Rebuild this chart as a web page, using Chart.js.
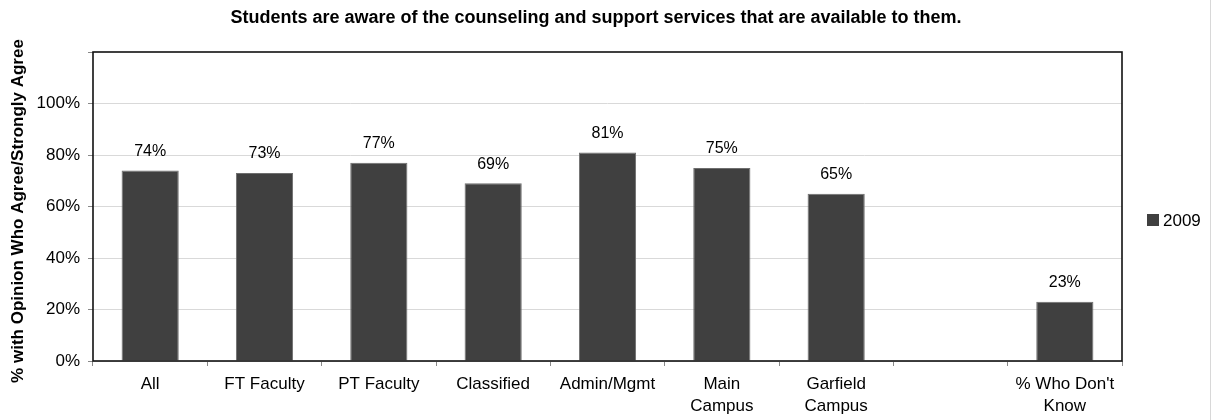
<!DOCTYPE html>
<html>
<head>
<meta charset="utf-8">
<script src="https://cdn.jsdelivr.net/npm/chart.js@4.4.1/dist/chart.umd.min.js"></script>
<style>
  html, body { margin: 0; padding: 0; background: #fff; }
  #wrap { width: 1212px; height: 420px; position: relative; }
</style>
</head>
<body>
<div id="wrap"><canvas id="c" width="1212" height="420"></canvas></div>
<script>
// Survey item and groups
const chartTitle = 'Students are aware of the counseling and support services that are available to them.';
const yAxisTitle = '% with Opinion Who Agree/Strongly Agree';
const categories = [
  'All', 'FT Faculty', 'PT Faculty', 'Classified', 'Admin/Mgmt',
  ['Main', 'Campus'], ['Garfield', 'Campus'], '', ["% Who Don't", 'Know']
];
const seriesName = '2009';
const values2009 = [74, 73, 77, 69, 81, 75, 65, null, 23];
const yTicks = [0, 20, 40, 60, 80, 100];

const FONT = '"Liberation Sans", Arial, Helvetica, sans-serif';
const BAR = '#404040';

// Title, axis title, plot frame, value labels and legend
const decor = {
  id: 'decor',
  afterDraw(chart) {
    const { ctx, chartArea: a } = chart;
    ctx.save();
    // plot frame
    ctx.strokeStyle = '#111';
    ctx.lineWidth = 1.6;
    ctx.strokeRect(a.left, a.top, a.right - a.left, a.bottom - a.top);

    // title
    ctx.fillStyle = '#000';
    ctx.font = 'bold 18px ' + FONT;
    ctx.textAlign = 'center';
    ctx.textBaseline = 'middle';
    ctx.fillText(chartTitle, 596, 18);

    // y axis title
    ctx.save();
    ctx.translate(18, 211);
    ctx.rotate(-Math.PI / 2);
    ctx.font = 'bold 17px ' + FONT;
    ctx.fillText(yAxisTitle, 0, 0);
    ctx.restore();

    // value labels
    const meta = chart.getDatasetMeta(0);
    ctx.font = '16px ' + FONT;
    ctx.textBaseline = 'bottom';
    meta.data.forEach((bar, i) => {
      const v = values2009[i];
      if (v == null) return;
      ctx.fillText(v + '%', bar.x, bar.y - 11);
    });

    // legend
    ctx.fillStyle = BAR;
    ctx.fillRect(1147, 214, 12, 12);
    ctx.fillStyle = '#000';
    ctx.font = '17px ' + FONT;
    ctx.textAlign = 'left';
    ctx.textBaseline = 'middle';
    ctx.fillText(seriesName, 1163, 221);

    // faint outer edge
    ctx.strokeStyle = '#d8d8d8';
    ctx.lineWidth = 1;
    ctx.beginPath();
    ctx.moveTo(1210.5, 0);
    ctx.lineTo(1210.5, 420);
    ctx.stroke();
    ctx.restore();
  }
};

new Chart(document.getElementById('c'), {
  type: 'bar',
  data: {
    labels: categories,
    datasets: [{
      label: seriesName,
      data: values2009,
      backgroundColor: BAR,
      borderColor: '#6e6e6e',
      borderWidth: 1,
      barPercentage: 0.5,
      categoryPercentage: 1.0
    }]
  },
  options: {
    responsive: false,
    animation: false,
    devicePixelRatio: 1,
    layout: { padding: { top: 52, right: 90, left: 0, bottom: 0 } },
    plugins: { legend: { display: false }, title: { display: false }, tooltip: { enabled: false } },
    scales: {
      x: {
        offset: true,
        grid: { offset: true, drawOnChartArea: false, tickLength: 5, color: '#888', tickColor: '#888' },
        border: { display: false },
        ticks: {
          color: '#000', padding: 8, maxRotation: 0, autoSkip: false,
          font: { family: FONT, size: 17, lineHeight: 1.25 }
        },
        afterFit(s) { s.height = 59; }
      },
      y: {
        min: 0, max: 120,
        afterBuildTicks(s) { s.ticks = yTicks.concat([120]).map(v => ({ value: v })); },
        grid: {
          color: (c) => (c.tick && c.tick.value === 120) ? 'rgba(0,0,0,0)' : '#d9d9d9',
          tickColor: '#888', tickLength: 5, lineWidth: 1
        },
        border: { display: false },
        ticks: {
          color: '#000', padding: 8,
          font: { family: FONT, size: 17 },
          callback: (v) => v === 120 ? '' : v + '%'
        },
        afterFit(s) { s.width = 93; }
      }
    }
  },
  plugins: [decor]
});
</script>
</body>
</html>
